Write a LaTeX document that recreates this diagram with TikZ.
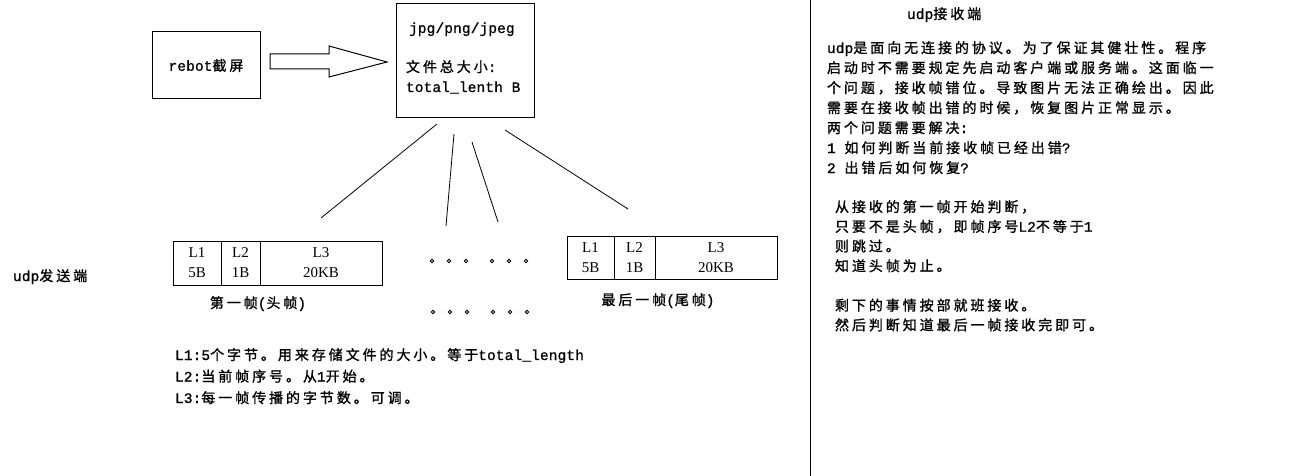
\documentclass[tikz,border=0pt]{standalone}
\usepackage{fontspec}
\newfontfamily\cjk[LetterSpace=21,FakeBold=1.2]{Noto Sans CJK SC}
\newfontfamily\latm[LetterSpace=0.8,FakeBold=1]{Liberation Mono}
\newfontfamily\serf{Liberation Serif}
\newcommand\Lt[1]{{\latm\fontsize{14.5}{20}\selectfont #1}}
\begin{document}
\begin{tikzpicture}[x=1pt,y=-1pt,
  every node/.style={inner sep=0pt,outer sep=0pt},
  box/.style={draw,line width=1pt},
  txt/.style={anchor=base west,font=\cjk\fontsize{14}{20}\selectfont},
  para/.style={anchor=north west,align=left,font=\cjk\fontsize{14}{#1}\selectfont},
  cell/.style={draw,line width=1pt,align=center,font=\serf\fontsize{15}{20}\selectfont},
  conn/.style={line width=0.8pt},
  dotc/.style={circle,draw,line width=0.9pt,minimum size=3.6pt}]
\useasboundingbox (0,0) rectangle (1303,476);

% top row
\node[box,minimum width=108pt,minimum height=67pt,font=\cjk\fontsize{14}{20}\selectfont] (rebot) at (206,65.5) {\Lt{rebot}截屏};
\node[box,minimum width=138pt,minimum height=114pt] (img) at (465,61) {};
\node[txt] (t1) at (409,33) {\Lt{jpg/png/jpeg}};
\node[txt] (t2) at (406,72) {文件总大小\Lt{:}};
\node[txt] (t3) at (406,92) {\Lt{total\_lenth B}};
\draw[line width=1pt] (270,54) -- (329,54) -- (329,46) -- (387,62) -- (329,77) -- (329,69) -- (270,69) -- cycle;

% connectors
\coordinate (a1) at (437,124); \coordinate (b1) at (321,218);
\coordinate (a2) at (454,134); \coordinate (b2) at (446,226);
\coordinate (a3) at (472,142); \coordinate (b3) at (498,222);
\coordinate (a4) at (505,130); \coordinate (b4) at (628,209);
\draw[conn] (a1) -- (b1);
\draw[conn] (a2) -- (b2);
\draw[conn] (a3) -- (b3);
\draw[conn] (a4) -- (b4);

% first frame
\node[cell,minimum width=48pt,minimum height=44pt] (f11) at (197,263) {L1\\5B};
\node[cell,minimum width=39pt,minimum height=44pt] (f12) at (240.5,263) {L2\\1B};
\node[cell,minimum width=122pt,minimum height=44pt] (f13) at (321,263) {L3\\20KB};
\node[txt,anchor=base] (cap1) at (258,308) {第一帧\Lt{(}头帧\Lt{)}};

% last frame
\node[cell,minimum width=47pt,minimum height=43pt] (f21) at (590.5,257.5) {L1\\5B};
\node[cell,minimum width=41pt,minimum height=43pt] (f22) at (634.5,257.5) {L2\\1B};
\node[cell,minimum width=122pt,minimum height=43pt] (f23) at (716,257.5) {L3\\20KB};
\node[txt,anchor=base] (cap2) at (658,305) {最后一帧\Lt{(}尾帧\Lt{)}};

% dots
\foreach \x [count=\i] in {432,449,466,492,509,526} {\node[dotc] (d1\i) at (\x,261) {};}
\foreach \x [count=\i] in {433,450,467,493,510,527} {\node[dotc] (d2\i) at (\x,312) {};}

\node[txt] (send) at (13,281) {\Lt{udp}发送端};

\node[para=21.5] (notes) at (175,347) {\rule{0pt}{13pt}\Lt{L1:5}个字节。用来存储文件的大小。等于\Lt{total\_length}\\
\Lt{L2:}当前帧序号。从\Lt{1}开始。\\
\Lt{L3:}每一帧传播的字节数。可调。};

% divider
\coordinate (v1) at (810,0); \coordinate (v2) at (810,476);
\draw[line width=1pt] (v1) -- (v2);

% receiver side
\node[txt] (recv) at (907,19) {\Lt{udp}接收端};
\node[para=20] (rp1) at (827,40) {\rule{0pt}{13pt}\Lt{udp}是面向无连接的协议。为了保证其健壮性。程序\\
启动时不需要规定先启动客户端或服务端。这面临一\\
个问题，接收帧错位。导致图片无法正确绘出。因此\\
需要在接收帧出错的时候，恢复图片正常显示。\\
两个问题需要解决\Lt{:}\\
\Lt{1 }如何判断当前接收帧已经出错\Lt{?}\\
\Lt{2 }出错后如何恢复\Lt{?}};
\node[para=19.7] (rp2) at (835,199) {\rule{0pt}{13pt}从接收的第一帧开始判断，\\
只要不是头帧，即帧序号\Lt{L2}不等于\Lt{1}\\
则跳过。\\
知道头帧为止。\\
\mbox{}\\
剩下的事情按部就班接收。\\
然后判断知道最后一帧接收完即可。};
\end{tikzpicture}
\end{document}
